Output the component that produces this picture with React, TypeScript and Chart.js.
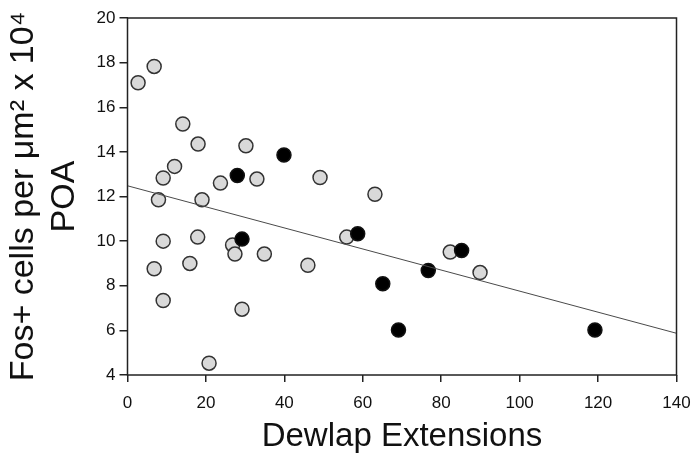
import React, { useEffect, useRef } from "react";
import { Chart, registerables } from "chart.js";

Chart.register(...registerables);

// Light (grey) points
const greyX = [2.7, 6.8, 14.1, 18.0, 30.2, 12.0, 9.1, 23.7, 33.0, 49.1, 7.9, 19.0, 63.1, 9.1, 17.9, 26.8, 27.4, 34.9, 46.0, 6.8, 15.9, 9.1, 29.2, 20.8, 55.9, 82.3, 89.9];
const greyY = [17.1, 17.83, 15.25, 14.35, 14.27, 13.35, 12.83, 12.6, 12.78, 12.85, 11.85, 11.85, 12.1, 10.0, 10.18, 9.83, 9.42, 9.42, 8.92, 8.76, 9.0, 7.34, 6.95, 4.53, 10.18, 9.51, 8.59];
// Black points
const blackX = [39.9, 28.0, 29.2, 58.7, 85.2, 76.7, 65.1, 69.1, 119.2];
const blackY = [13.86, 12.94, 10.09, 10.33, 9.58, 8.68, 8.09, 6.02, 6.02];
// Regression line endpoints
const fitX = [0, 140];
const fitY = [12.48, 5.87];

const xTicks = [0, 20, 40, 60, 80, 100, 120, 140];
const yTicks = [4, 6, 8, 10, 12, 14, 16, 18, 20];

const FONT = "'Liberation Sans', Arial, sans-serif";

const frame = {
  id: "frame",
  afterDatasetsDraw(chart: any) {
    const { ctx, chartArea } = chart;
    ctx.save();
    ctx.strokeStyle = "#222";
    ctx.lineWidth = 1.5;
    ctx.strokeRect(chartArea.left, chartArea.top, chartArea.right - chartArea.left, chartArea.bottom - chartArea.top);
    ctx.restore();
  },
};

export default function App() {
  const ref = useRef<HTMLCanvasElement | null>(null);
  useEffect(() => {
    document.body.style.margin = "0";
    const toPts = (xs: number[], ys: number[]) => xs.map((x, i) => ({ x, y: ys[i] }));
    const chart = new Chart(ref.current!, {
      type: "scatter",
      data: {
        datasets: [
          {
            type: "line",
            data: toPts(fitX, fitY),
            borderColor: "#4a4a4a",
            borderWidth: 1,
            pointRadius: 0,
            fill: false,
          } as any,
          {
            data: toPts(blackX, blackY),
            backgroundColor: "#000",
            borderColor: "#111",
            borderWidth: 1.5,
            pointRadius: 7,
          },
          {
            data: toPts(greyX, greyY),
            backgroundColor: "#d9d9d9",
            borderColor: "#333",
            borderWidth: 1.5,
            pointRadius: 7,
          },
        ],
      },
      options: {
        animation: false,
        responsive: false,
        events: [],
        layout: { padding: { top: 18, right: 21.5, left: 0, bottom: 0 } },
        plugins: { legend: { display: false }, tooltip: { enabled: false } },
        scales: {
          x: {
            type: "linear",
            min: 0,
            max: 140,
            afterBuildTicks: (s: any) => { s.ticks = xTicks.map((v) => ({ value: v })); },
            afterFit: (s: any) => { s.height = 86; s.paddingLeft = 0; s.paddingRight = 0; },
            border: { display: false },
            grid: { drawOnChartArea: false, drawTicks: true, tickLength: 7, color: "#222", lineWidth: 1.5 },
            ticks: { color: "#111", font: { family: FONT, size: 17 }, padding: 11, maxRotation: 0 },
            title: {
              display: true,
              text: "Dewlap Extensions",
              color: "#111",
              font: { family: FONT, size: 33, lineHeight: 1.2 },
              padding: { top: 0, bottom: 4 },
            },
          },
          y: {
            type: "linear",
            min: 4,
            max: 20,
            afterBuildTicks: (s: any) => { s.ticks = yTicks.map((v) => ({ value: v })); },
            afterFit: (s: any) => { s.width = 127.5; s.paddingTop = 0; s.paddingBottom = 0; },
            border: { display: false },
            grid: { drawOnChartArea: false, drawTicks: true, tickLength: 8, color: "#222", lineWidth: 1.5 },
            ticks: { color: "#111", font: { family: FONT, size: 17 }, padding: 4 },
            title: {
              display: true,
              text: ["Fos+ cells per \u03bcm\u00b2 x 10\u2074", "POA"],
              color: "#111",
              font: { family: FONT, size: 34, lineHeight: 1.2 },
              padding: { top: 3, bottom: 0 },
            },
          },
        },
      },
      plugins: [frame],
    } as any);
    return () => chart.destroy();
  }, []);
  return <canvas ref={ref} width={698} height={461} style={{ display: "block" }} />;
}
